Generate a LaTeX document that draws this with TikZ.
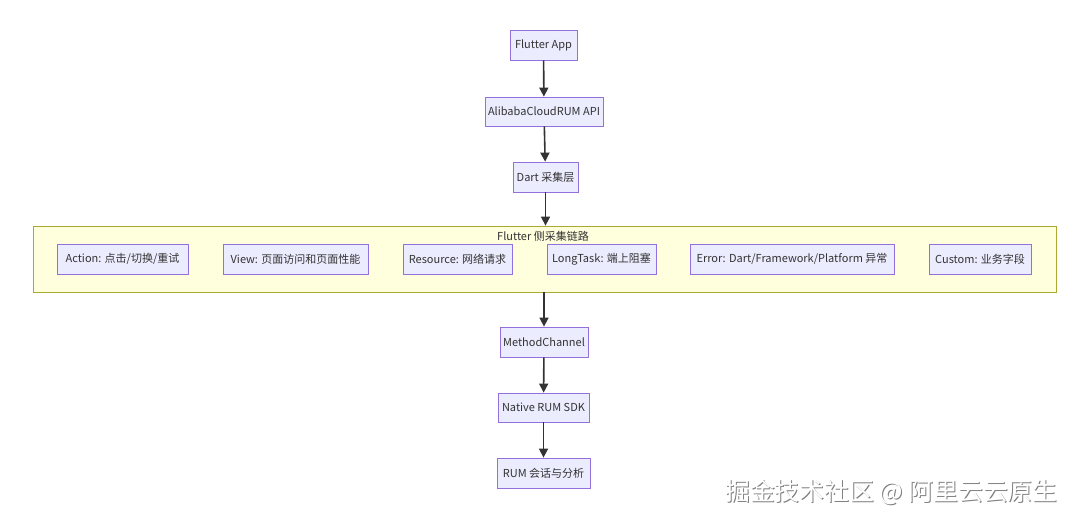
\documentclass[tikz,border=0pt]{standalone}
\usepackage{fontspec}
\setmainfont{Noto Sans CJK SC}
\usetikzlibrary{arrows.meta}
\definecolor{nodefill}{HTML}{ECECFF}
\definecolor{nodedraw}{HTML}{9370DB}
\definecolor{clusterfill}{HTML}{FFFFDE}
\definecolor{clusterdraw}{HTML}{AAAA33}
\definecolor{edgecol}{HTML}{333333}
\definecolor{txt}{HTML}{333333}
\tikzset{
  box/.style={draw=nodedraw, fill=nodefill, line width=0.8pt, rectangle, inner sep=0pt,
    minimum height=30pt, text=txt, font=\fontsize{11}{13}\selectfont},
  edge/.style={draw=edgecol, line width=1.6pt, -{Triangle[length=9pt,width=9pt]}},
  cluster/.style={draw=clusterdraw, fill=clusterfill, line width=0.8pt, rectangle, inner sep=0pt},
  wm/.style={font=\fontsize{24.8}{28}\selectfont, anchor=west}
}
\begin{document}
\begin{tikzpicture}[x=1pt,y=-1pt]
\useasboundingbox (0,0) rectangle (1080,522);
\fill[white] (0,0) rectangle (1080,522);
% cluster
\node[cluster, minimum width=1023pt, minimum height=66pt] (cl) at (544.5,259) {};
\node[text=txt, font=\fontsize{11}{13}\selectfont] (cltitle) at (543,236) {Flutter 侧采集链路};
% main chain
\node[box, minimum width=67pt] (app) at (543.5,45) {Flutter App};
\node[box, minimum width=118pt, minimum height=29pt] (api) at (544,111.5) {AlibabaCloudRUM API};
\node[box, minimum width=65pt] (dart) at (545.5,177) {Dart 采集层};
\node[box, minimum width=88pt] (mc) at (544,342) {MethodChannel};
\node[box, minimum width=91pt, minimum height=29pt] (sdk) at (543.5,407.5) {Native RUM SDK};
\node[box, minimum width=93pt] (rum) at (543.5,473) {RUM 会话与分析};
% inner nodes
\node[box, minimum width=131pt] (action) at (122.5,259) {Action: 点击/切换/重试};
\node[box, minimum width=145pt] (view) at (295.5,259) {View: 页面访问和页面性能};
\node[box, minimum width=109pt] (res) at (457.5,259) {Resource: 网络请求};
\node[box, minimum width=109pt] (lt) at (601.5,259) {LongTask: 端上阻塞};
\node[box, minimum width=204pt] (err) at (792,259) {Error: Dart/Framework/Platform 异常};
\node[box, minimum width=102pt] (cus) at (980,259) {Custom: 业务字段};
% edges
\draw[edge] (app) -- (api);
\draw[edge] (api) -- (dart);
\draw[edge] (dart.south) -- (dart.south |- cl.north);
\draw[edge] (mc.north |- cl.south) -- (mc);
\draw[edge] (mc) -- (sdk);
\draw[edge] (sdk) -- (rum);
% watermark
\node[wm, text=black!50] (wms) at (722.8,493.6) {掘金技术社区 @ 阿里云云原生};
\node[wm, text=white] (wm) at (721.8,492.6) {掘金技术社区 @ 阿里云云原生};
\end{tikzpicture}
\end{document}
